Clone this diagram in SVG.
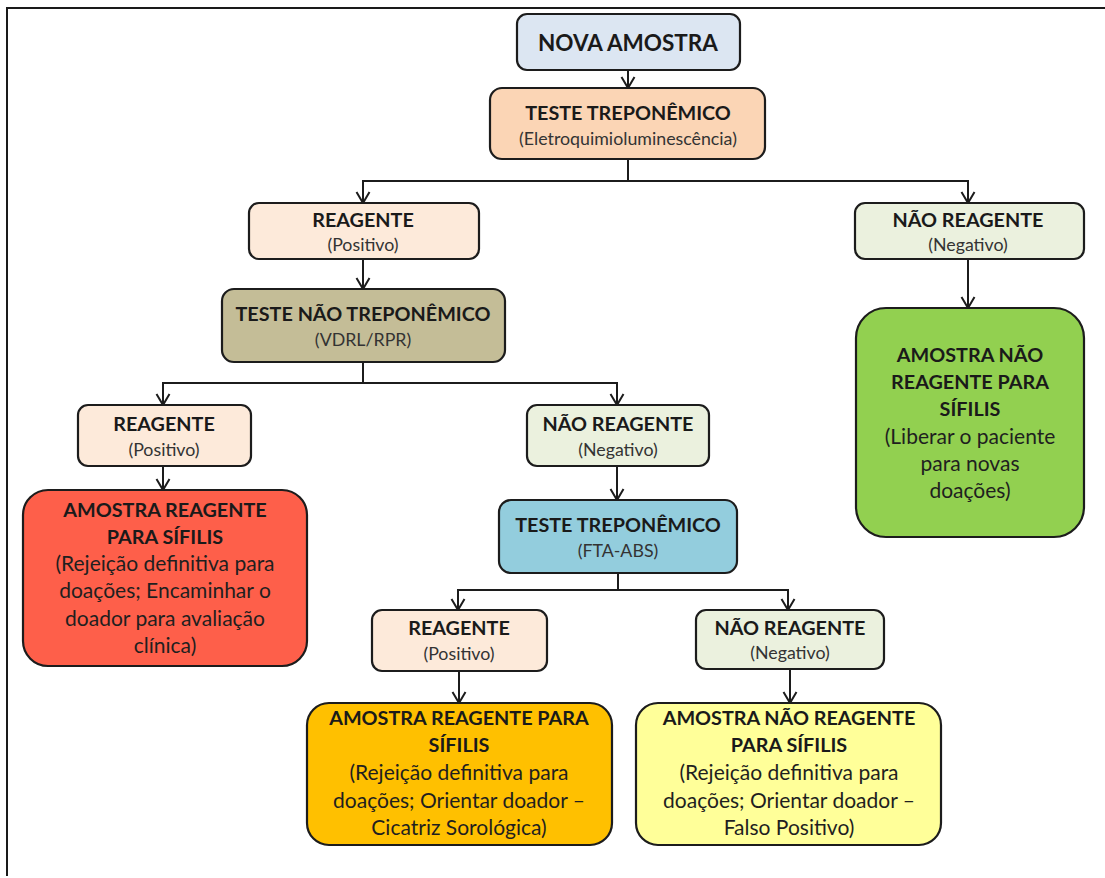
<svg xmlns="http://www.w3.org/2000/svg" width="1105" height="878" viewBox="0 0 1105 878">
  <style>
    .box { stroke: #1c1c1c; stroke-width: 2.2; }
    .t { font-family: Lato, "Open Sans", "Liberation Sans", sans-serif; font-weight: 700; fill: #1a1a1a; text-anchor: middle; font-size: 19.8px; }
    .s { font-family: Lato, "Open Sans", "Liberation Sans", sans-serif; fill: #333333; text-anchor: middle; font-size: 17.8px; }
    .b { font-family: Lato, "Open Sans", "Liberation Sans", sans-serif; fill: #1f1f1f; text-anchor: middle; font-size: 21px; }
    .wire { fill: none; stroke: #1c1c1c; stroke-width: 2; }
  </style>
  <defs>
    <!-- open V arrowhead, drawn pointing along +x so orient="auto" turns it with the line -->
    <marker id="arrow" markerUnits="userSpaceOnUse" markerWidth="16" markerHeight="16" viewBox="0 0 16 16" refX="13" refY="8" orient="auto">
      <path d="M2,1.5 L13,8 L2,14.5" fill="none" stroke="#1c1c1c" stroke-width="2"/>
    </marker>
  </defs>

  <rect width="1105" height="878" fill="#ffffff"/>
  <!-- page frame (top and left edges) -->
  <path d="M7,876 L7,8 L1105,8" fill="none" stroke="#1a1a1a" stroke-width="2"/>

  <g id="connectors">
    <path class="wire" d="M628,70 L628,88" marker-end="url(#arrow)"/>
    <path class="wire" d="M628,159 L628,181 L363,181 L363,203" marker-end="url(#arrow)"/>
    <path class="wire" d="M628,181 L968,181 L968,203" marker-end="url(#arrow)"/>
    <path class="wire" d="M363,259 L363,289" marker-end="url(#arrow)"/>
    <path class="wire" d="M968,259 L968,308" marker-end="url(#arrow)"/>
    <path class="wire" d="M363,362 L363,383 L163,383 L163,405" marker-end="url(#arrow)"/>
    <path class="wire" d="M363,383 L617,383 L617,405" marker-end="url(#arrow)"/>
    <path class="wire" d="M163,466 L163,490" marker-end="url(#arrow)"/>
    <path class="wire" d="M617,466 L617,500" marker-end="url(#arrow)"/>
    <path class="wire" d="M618,573 L618,590 L458,590 L458,610" marker-end="url(#arrow)"/>
    <path class="wire" d="M618,590 L788,590 L788,610" marker-end="url(#arrow)"/>
    <path class="wire" d="M459,671 L459,703" marker-end="url(#arrow)"/>
    <path class="wire" d="M790,669 L790,703" marker-end="url(#arrow)"/>
  </g>

  <g id="nova-amostra">
    <rect class="box" x="517" y="14" width="223" height="56" rx="10" fill="#dce6f2"/>
    <text class="t" x="628" y="51" style="font-size:22.5px">NOVA AMOSTRA</text>
  </g>

  <g id="teste-treponemico-1">
    <rect class="box" x="490" y="88" width="275" height="71" rx="12" fill="#fbd5b5"/>
    <text class="t" x="628" y="120">TESTE TREPONÊMICO</text>
    <text class="s" x="628" y="145">(Eletroquimioluminescência)</text>
  </g>

  <g id="reagente-1">
    <rect class="box" x="249" y="203" width="230" height="56" rx="10" fill="#fdeada"/>
    <text class="t" x="363" y="227">REAGENTE</text>
    <text class="s" x="363" y="251">(Positivo)</text>
  </g>

  <g id="nao-reagente-1">
    <rect class="box" x="855" y="203" width="229" height="56" rx="10" fill="#ebf1de"/>
    <text class="t" x="968" y="227">NÃO REAGENTE</text>
    <text class="s" x="968" y="251">(Negativo)</text>
  </g>

  <g id="teste-nao-treponemico">
    <rect class="box" x="222" y="289" width="283" height="73" rx="12" fill="#c4bd97"/>
    <text class="t" x="363" y="321">TESTE NÃO TREPONÊMICO</text>
    <text class="s" x="363" y="346">(VDRL/RPR)</text>
  </g>

  <g id="amostra-nao-reagente-1">
    <rect class="box" x="856" y="308" width="228" height="229" rx="30" fill="#92d050"/>
    <text class="t" x="970" y="362">AMOSTRA NÃO</text>
    <text class="t" x="970" y="389">REAGENTE PARA</text>
    <text class="t" x="970" y="416">SÍFILIS</text>
    <text class="b" x="970" y="444">(Liberar o paciente</text>
    <text class="b" x="970" y="471">para novas</text>
    <text class="b" x="970" y="498">doações)</text>
  </g>

  <g id="reagente-2">
    <rect class="box" x="78" y="405" width="173" height="61" rx="10" fill="#fdeada"/>
    <text class="t" x="164" y="431">REAGENTE</text>
    <text class="s" x="164" y="456">(Positivo)</text>
  </g>

  <g id="nao-reagente-2">
    <rect class="box" x="527" y="405" width="182" height="61" rx="10" fill="#ebf1de"/>
    <text class="t" x="618" y="431">NÃO REAGENTE</text>
    <text class="s" x="618" y="456">(Negativo)</text>
  </g>

  <g id="amostra-reagente-1">
    <rect class="box" x="23" y="490" width="284" height="176" rx="25" fill="#fe5f4a"/>
    <text class="t" x="165" y="517">AMOSTRA REAGENTE</text>
    <text class="t" x="165" y="544">PARA SÍFILIS</text>
    <text class="b" x="165" y="571">(Rejeição definitiva para</text>
    <text class="b" x="165" y="598">doações; Encaminhar o</text>
    <text class="b" x="165" y="626">doador para avaliação</text>
    <text class="b" x="165" y="653">clínica)</text>
  </g>

  <g id="teste-treponemico-2">
    <rect class="box" x="499" y="500" width="238" height="73" rx="12" fill="#93cddd"/>
    <text class="t" x="618" y="532">TESTE TREPONÊMICO</text>
    <text class="s" x="618" y="557">(FTA-ABS)</text>
  </g>

  <g id="reagente-3">
    <rect class="box" x="372" y="610" width="175" height="61" rx="10" fill="#fdeada"/>
    <text class="t" x="459" y="635">REAGENTE</text>
    <text class="s" x="459" y="660">(Positivo)</text>
  </g>

  <g id="nao-reagente-3">
    <rect class="box" x="696" y="610" width="188" height="59" rx="10" fill="#ebf1de"/>
    <text class="t" x="790" y="635">NÃO REAGENTE</text>
    <text class="s" x="790" y="659">(Negativo)</text>
  </g>

  <g id="amostra-reagente-2">
    <rect class="box" x="307" y="703" width="305" height="142" rx="22" fill="#ffc000"/>
    <text class="t" x="459" y="725">AMOSTRA REAGENTE PARA</text>
    <text class="t" x="459" y="752">SÍFILIS</text>
    <text class="b" x="459" y="780">(Rejeição definitiva para</text>
    <text class="b" x="459" y="808">doações; Orientar doador –</text>
    <text class="b" x="459" y="835">Cicatriz Sorológica)</text>
  </g>

  <g id="amostra-nao-reagente-2">
    <rect class="box" x="636" y="703" width="305" height="142" rx="22" fill="#ffff99"/>
    <text class="t" x="789" y="725">AMOSTRA NÃO REAGENTE</text>
    <text class="t" x="789" y="752">PARA SÍFILIS</text>
    <text class="b" x="789" y="780">(Rejeição definitiva para</text>
    <text class="b" x="789" y="808">doações; Orientar doador –</text>
    <text class="b" x="789" y="835">Falso Positivo)</text>
  </g>
</svg>
